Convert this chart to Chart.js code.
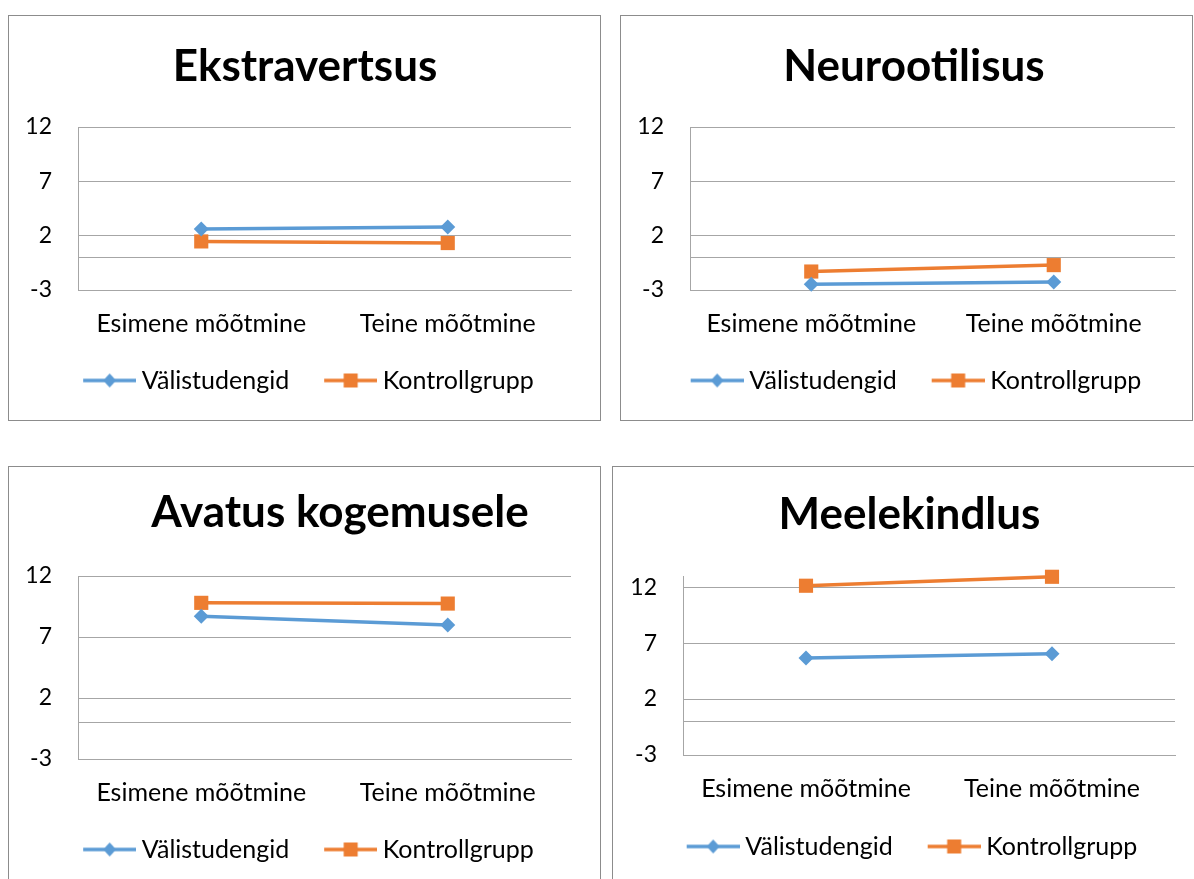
<!DOCTYPE html>
<html>
<head>
<meta charset="utf-8">
<script src="https://cdn.jsdelivr.net/npm/chart.js@4.4.0/dist/chart.umd.min.js"></script>
<style>
  body { margin: 0; background: #fff; width: 1194px; height: 879px; overflow: hidden; position: relative; }
  .panel { position: absolute; border: 1px solid #8c8c8c; overflow: hidden; background: #fff; }
  .panel canvas { display: block; }
</style>
</head>
<body>
<div class="panel" style="left:8px;top:15px;width:591px;height:404px;"><canvas id="c1" width="591" height="404"></canvas></div>
<div class="panel" style="left:620px;top:15px;width:571px;height:404px;"><canvas id="c2" width="571" height="404"></canvas></div>
<div class="panel" style="left:8px;top:466px;width:591px;height:430px;"><canvas id="c3" width="591" height="412"></canvas></div>
<div class="panel" style="left:612px;top:466px;width:600px;height:430px;"><canvas id="c4" width="581" height="412"></canvas></div>
<script>
// data
const categories = ['Esimene mõõtmine', 'Teine mõõtmine'];
const seriesNames = ['Välistudengid', 'Kontrollgrupp'];
const titles = ['Ekstravertsus', 'Neurootilisus', 'Avatus kogemusele', 'Meelekindlus'];

const ekstraValis = [2.62, 2.8];
const ekstraKontroll = [1.47, 1.32];
const neuroValis = [-2.47, -2.26];
const neuroKontroll = [-1.3, -0.71];
const avatusValis = [8.7, 7.98];
const avatusKontroll = [9.8, 9.74];
const meeleValis = [5.66, 6.05];
const meeleKontroll = [12.13, 12.93];

const yTickValues = [-3, 0, 2, 7, 12];
const yTickLabels = ['-3', '', '2', '7', '12'];
const yMin = -3;
const yMaxes = [12, 12, 12, 13];

// per panel layout (pixels)
const layouts = [
  { pt: 24.6, pb: 33.6, yw: 69, right: 29, xh: 42, xpad: 19.4, bottom: 17, dx: 15, ldx: 19 },
  { pt: 24.6, pb: 33.6, yw: 69, right: 17, xh: 42, xpad: 19.4, bottom: 17, dx: 16, ldx: 18.5 },
  { pt: 19.6, pb: 36.6, yw: 69, right: 29, xh: 42, xpad: 18.6, bottom: 7, dx: 50, ldx: 19 },
  { pt: 21.6, pb: 34.6, yw: 70, right: 19, xh: 43, xpad: 19.4, bottom: 10, dx: 15.5, ldx: 18.5 }
];

const BLUE = '#5B9BD5';
const ORANGE = '#ED7D31';
const GRID = '#a6a6a6';
const FONT = 'Lato, sans-serif';

// legend symbol: line with marker, drawn a bit right of the box centre
function legendIcon(color, shape) {
  const c = document.createElement('canvas');
  c.width = 59;
  c.height = 18;
  const ctx = c.getContext('2d');
  ctx.strokeStyle = color;
  ctx.lineWidth = 3.5;
  ctx.beginPath();
  ctx.moveTo(6, 9);
  ctx.lineTo(59, 9);
  ctx.stroke();
  ctx.fillStyle = color;
  ctx.beginPath();
  if (shape === 'diamond') {
    ctx.moveTo(32.5, 2); ctx.lineTo(39, 9); ctx.lineTo(32.5, 16); ctx.lineTo(26, 9);
  } else {
    ctx.rect(25.5, 2, 14, 14);
  }
  ctx.closePath();
  ctx.fill();
  return c;
}
const icons = [legendIcon(BLUE, 'diamond'), legendIcon(ORANGE, 'square')];

// nudge title and legend sideways like in the original
const blockShift = {
  id: 'blockShift',
  afterLayout(chart, args, opts) {
    const t = chart.titleBlock;
    if (t && opts.dx) {
      t.left += opts.dx;
      t.right += opts.dx;
    }
    const l = chart.legend;
    if (l && opts.ldx) {
      l.left += opts.ldx;
      l.right += opts.ldx;
    }
  }
};

function makeChart(id, i, valis, kontroll) {
  const L = layouts[i];
  new Chart(document.getElementById(id), {
    type: 'line',
    data: {
      labels: categories,
      datasets: [
        {
          label: seriesNames[0],
          data: valis,
          borderColor: BLUE,
          backgroundColor: BLUE,
          borderWidth: 3.5,
          pointStyle: 'rectRot',
          pointRadius: 7.5,
          pointBorderWidth: 0,
          clip: false
        },
        {
          label: seriesNames[1],
          data: kontroll,
          borderColor: ORANGE,
          backgroundColor: ORANGE,
          borderWidth: 3.5,
          pointStyle: 'rect',
          pointRadius: 10,
          pointBorderWidth: 0,
          clip: false
        }
      ]
    },
    options: {
      responsive: false,
      animation: false,
      events: [],
      layout: { padding: { left: 0, right: L.right, top: 0, bottom: L.bottom } },
      plugins: {
        title: {
          display: true,
          text: titles[i],
          color: '#000',
          font: { family: FONT, size: 44, weight: 'bold', lineHeight: 1.2 },
          padding: { top: L.pt, bottom: L.pb }
        },
        blockShift: { dx: L.dx, ldx: L.ldx },
        legend: {
          position: 'bottom',
          labels: {
            usePointStyle: true,
            pointStyleWidth: 45,
            padding: 36,
            color: '#000',
            font: { family: FONT, size: 25 },
            generateLabels: (chart) => chart.data.datasets.map((ds, k) => ({
              text: ds.label,
              pointStyle: icons[k],
              fillStyle: ds.borderColor,
              strokeStyle: ds.borderColor,
              lineWidth: 0,
              hidden: false,
              datasetIndex: k
            }))
          }
        },
        tooltip: { enabled: false }
      },
      scales: {
        x: {
          offset: true,
          grid: { display: false, drawTicks: false },
          border: { display: true, color: GRID, width: 1 },
          ticks: { color: '#000', padding: L.xpad, font: { family: FONT, size: 25 }, maxRotation: 0 },
          afterFit: (s) => { s.height = L.xh; }
        },
        y: {
          min: yMin,
          max: yMaxes[i],
          afterBuildTicks: (s) => { s.ticks = yTickValues.map(v => ({ value: v })); },
          grid: { color: GRID, lineWidth: 1, drawTicks: false },
          border: { display: true, color: GRID, width: 1 },
          ticks: {
            color: '#000',
            padding: 26,
            font: { family: FONT, size: 23 },
            callback: (v) => yTickLabels[yTickValues.indexOf(v)]
          },
          afterFit: (s) => { s.width = L.yw; }
        }
      }
    },
    plugins: [blockShift]
  });
}

makeChart('c1', 0, ekstraValis, ekstraKontroll);
makeChart('c2', 1, neuroValis, neuroKontroll);
makeChart('c3', 2, avatusValis, avatusKontroll);
makeChart('c4', 3, meeleValis, meeleKontroll);
</script>
</body>
</html>
